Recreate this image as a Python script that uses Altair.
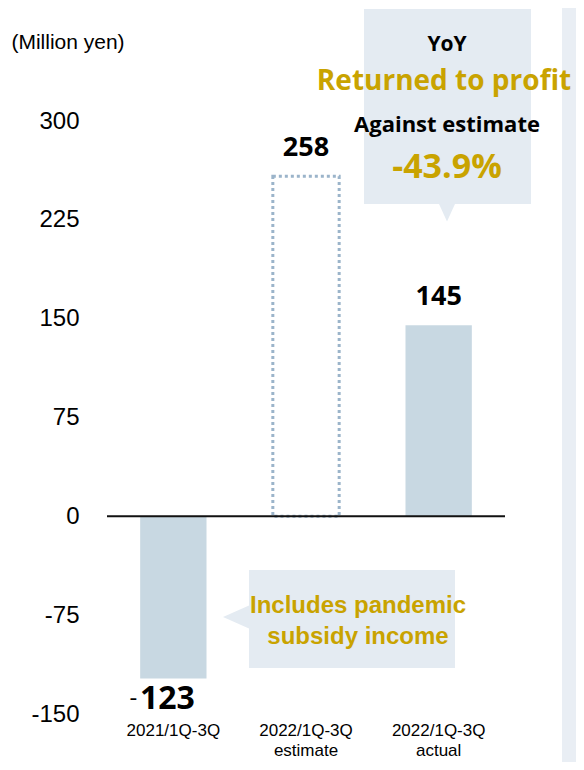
import altair as alt
import pandas as pd

categories = ["2021/1Q-3Q", "2022/1Q-3Q|estimate", "2022/1Q-3Q|actual"]
values = [-123, 258, 145]
is_estimate = [False, True, False]
y_ticks = [-150, -75, 0, 75, 150, 225, 300]

GOLD = "#C9A300"
BAR = "#C8D8E2"
BOX = "#E4EBF2"
STRIP = "#E9EEF4"

df = pd.DataFrame({"cat": categories, "value": values, "estimate": is_estimate})
df["num"] = df["value"].abs().astype(str)

x = alt.X(
    "cat:N", sort=categories,
    scale=alt.Scale(paddingInner=0.5, paddingOuter=0.25),
    axis=alt.Axis(title=None, labelAngle=0, labelExpr="split(datum.label, '|')",
                  labelFont="Liberation Sans", labelFontSize=17, labelColor="#000",
                  labelPadding=8, ticks=False, domain=False, labelLineHeight=20),
)
y = alt.Y(
    "value:Q",
    scale=alt.Scale(domain=[-150, 300], nice=False, zero=False),
    axis=alt.Axis(values=y_ticks, title=None, grid=False, domain=False, ticks=False,
                  labelExpr="datum.value < 0 ? '-' + abs(datum.value) : '' + datum.value",
                  labelFont="Liberation Sans", labelFontSize=24, labelColor="#000",
                  labelPadding=28),
)

base = alt.Chart(df).encode(x=x, y=y)

one = pd.DataFrame({"a": [0]})


def rect(x1, x2, y1, y2, color):
    return alt.Chart(one).mark_rect(color=color).encode(
        x=alt.value(x1), x2=alt.value(x2), y=alt.value(y1), y2=alt.value(y2))


def tri(px, py, path, size):
    return alt.Chart(one).mark_point(shape=path, filled=True, color=BOX, opacity=1,
                                     size=size, strokeWidth=0).encode(
        x=alt.value(px), y=alt.value(py))


def txt(s, px, py, size, color="#000", font="Open Sans", weight="bold"):
    return alt.Chart(one).mark_text(text=s, font=font, fontSize=size, fontWeight=weight,
                                    color=color, align="center", baseline="alphabetic").encode(
        x=alt.value(px), y=alt.value(py))


strip = rect(455, 490, -130, 680, STRIP)
box_top = rect(257, 424, -112, 83, BOX)
tri_top = tri(340, 91, "M-1,-1L1,-1L0,1.2Z", 256)
box_low = rect(142, 348, 449, 547, BOX)
tri_low = tri(130.5, 496, "M1,-1L1,1L-1.26,0Z", 529)

bars = base.mark_bar(color=BAR).encode(y2=alt.datum(0)).transform_filter("!datum.estimate")
est = base.mark_bar(fillOpacity=0, stroke="#9BB4CA", strokeWidth=3,
                    strokeDash=[3, 3]).encode(y2=alt.datum(0)).transform_filter("datum.estimate")

zero = alt.Chart(one).mark_rule(color="#111", strokeWidth=2).encode(y=alt.datum(0))

pos_lab = base.mark_text(font="Open Sans", fontSize=27, fontWeight="bold", color="#000",
                         baseline="alphabetic", dy=-20).encode(text="num:N").transform_filter("datum.value >= 0")
neg_lab = base.mark_text(font="Open Sans", fontSize=32, fontWeight="bold", color="#000",
                         baseline="alphabetic", dy=31, dx=-6).encode(text="num:N").transform_filter("datum.value < 0")
neg_sign = base.mark_text(text="-", font="Open Sans", fontSize=24, fontWeight="normal", color="#000",
                          baseline="alphabetic", dy=28, dx=-40).transform_filter("datum.value < 0")

unit = txt("(Million yen)", -39, -72, 21, font="Liberation Sans", weight="normal")
t1 = txt("YoY", 340, -70, 21)
t2 = txt("Returned to profit", 337, -31, 28, color=GOLD)
t3 = txt("Against estimate", 340, 11, 22)
t4 = txt("-43.9%", 340, 57, 34, color=GOLD)
t5 = txt("Includes pandemic", 251, 492, 24, color=GOLD, font="Liberation Sans")
t6 = txt("subsidy income", 251, 523, 24, color=GOLD, font="Liberation Sans")

chart = alt.layer(
    strip, box_top, tri_top, box_low, tri_low, bars, est, zero,
    pos_lab, neg_lab, neg_sign, unit, t1, t2, t3, t4, t5, t6,
).properties(
    width=398, height=593,
    autosize=alt.AutoSizeParams(type="none"),
    padding={"left": 99, "top": 113, "right": 71, "bottom": 48},
).configure_view(stroke=None)

chart.save("out.html", embed_options={"renderer": "svg", "actions": False})
